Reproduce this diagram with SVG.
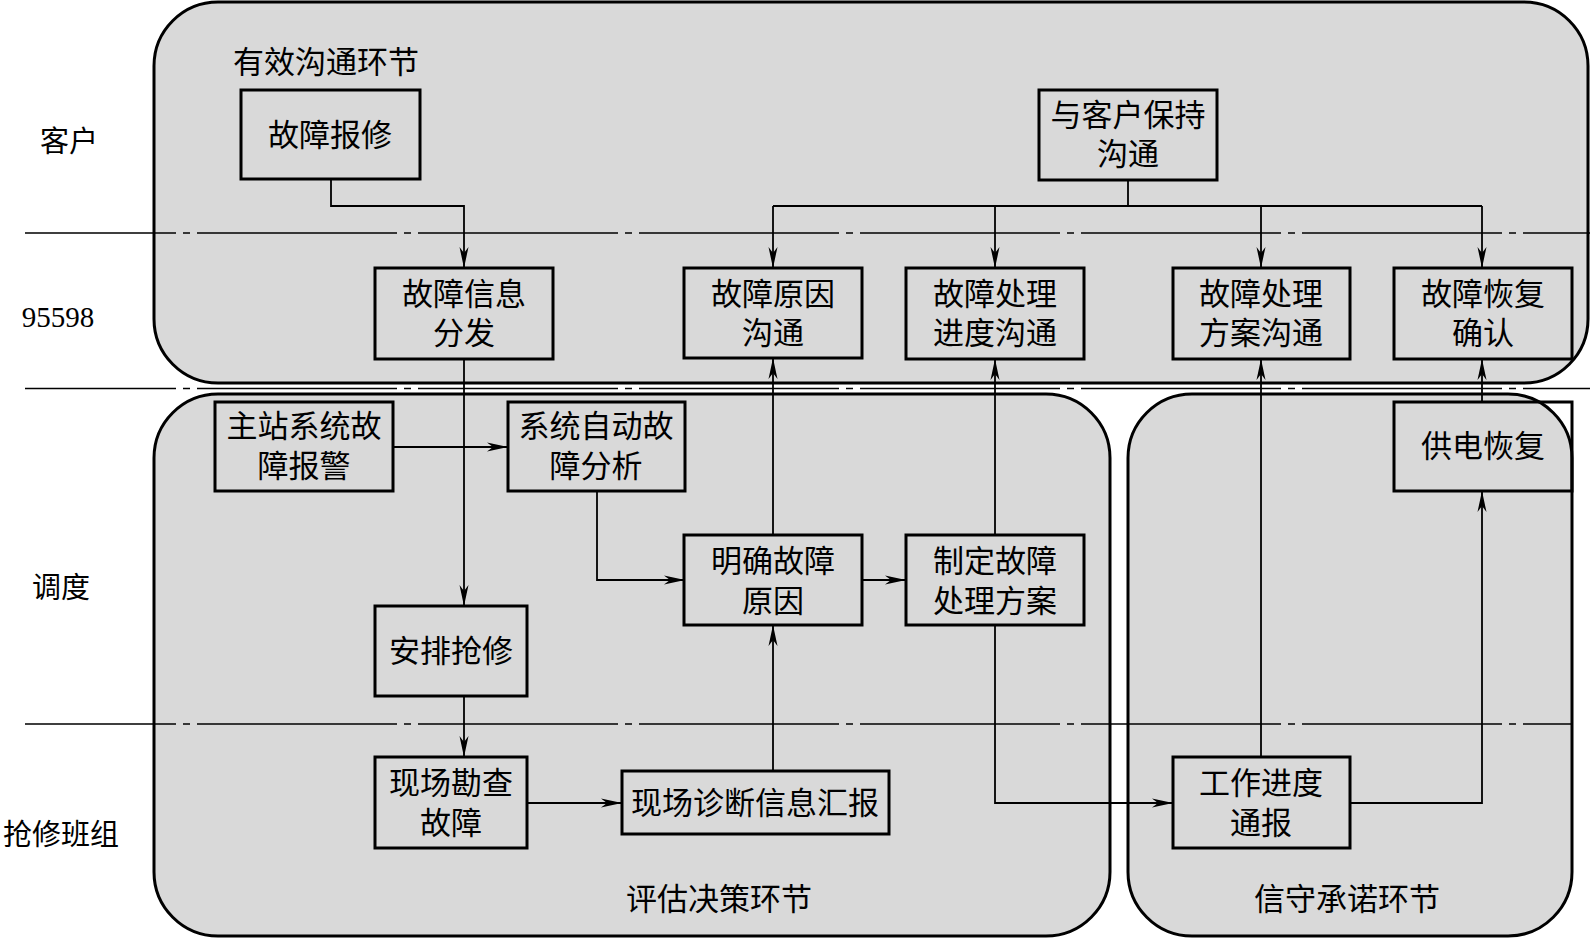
<svg xmlns="http://www.w3.org/2000/svg" width="1590" height="939" viewBox="0 0 1590 939">
<defs>
<style>
.bg{fill:#d9d9d9;stroke:#000;stroke-width:3}
.box{fill:none;stroke:#000;stroke-width:3}
.lane{stroke:#000;stroke-width:1.5;fill:none;stroke-dasharray:200 7 7 7;stroke-dashoffset:49}
.c{stroke:#000;stroke-width:1.8;fill:none}
.ca{stroke:#000;stroke-width:1.8;fill:none;marker-end:url(#ah)}
text{font-family:"Liberation Serif","Noto Sans CJK SC",serif;font-size:31px;fill:#000;text-anchor:middle}
.lbl{font-size:29px}
</style>
<marker id="ah" markerUnits="userSpaceOnUse" markerWidth="24" markerHeight="12" viewBox="0 -6 24 12" refX="21" refY="0" orient="auto">
<path d="M0,-4.5 L21,0 L0,4.5 L6,0 Z" fill="#000"/>
</marker>
</defs>
<rect width="1590" height="939" fill="#fff"/>
<g id="regions">
<rect id="r-comm" class="bg" x="154" y="2" width="1434" height="381" rx="64" ry="64"/>
<rect id="r-eval" class="bg" x="154" y="394" width="956" height="542" rx="64" ry="64"/>
<rect id="r-promise" class="bg" x="1128" y="394" width="444" height="542" rx="64" ry="64"/>
<text x="326" y="73">有效沟通环节</text>
<text x="719" y="910">评估决策环节</text>
<text x="1347" y="910">信守承诺环节</text>
</g>
<g id="lanes">
<line class="lane" x1="25" y1="233" x2="1590" y2="233"/>
<line class="lane" x1="25" y1="388.5" x2="1590" y2="388.5"/>
<line class="lane" x1="25" y1="724" x2="1572" y2="724"/>
<text class="lbl" x="69" y="152">客户</text>
<text class="lbl" x="58" y="327" style="font-family:'Liberation Serif',serif">95598</text>
<text class="lbl" x="61" y="598">调度</text>
<text class="lbl" x="61" y="845">抢修班组</text>
</g>
<g id="connectors">
<path class="ca" d="M331,179 V206 H464 V268"/>
<path class="c" d="M1128,180 V206"/>
<path class="c" d="M773,206 H1482"/>
<path class="ca" d="M773,206 V268"/>
<path class="ca" d="M995,206 V268"/>
<path class="ca" d="M1261,206 V268"/>
<path class="ca" d="M1482,206 V268"/>
<path class="ca" d="M464,359 V606"/>
<path class="ca" d="M393,447 H508"/>
<path class="ca" d="M597,491 V580 H685"/>
<path class="ca" d="M862,580 H906"/>
<path class="ca" d="M773,535 V358"/>
<path class="ca" d="M995,535 V359"/>
<path class="ca" d="M464,696 V757"/>
<path class="ca" d="M527,803 H622"/>
<path class="ca" d="M773,771 V625"/>
<path class="ca" d="M995,625 V803 H1173"/>
<path class="ca" d="M1261,757 V359"/>
<path class="ca" d="M1350,803 H1482 V491"/>
<path class="ca" d="M1482,402 V359"/>
</g>
<g id="n-baoxiu"><rect class="box" x="241" y="90" width="179" height="89"/><text x="330" y="146">故障报修</text></g>
<g id="n-kehu"><rect class="box" x="1039" y="90" width="178" height="90"/><text x="1128" y="126">与客户保持</text><text x="1128" y="165">沟通</text></g>
<g id="n-fenfa"><rect class="box" x="375" y="268" width="178" height="91"/><text x="464" y="305">故障信息</text><text x="464" y="344">分发</text></g>
<g id="n-yuanyin"><rect class="box" x="684" y="268" width="178" height="90"/><text x="773" y="305">故障原因</text><text x="773" y="344">沟通</text></g>
<g id="n-jindu"><rect class="box" x="906" y="268" width="178" height="91"/><text x="995" y="305">故障处理</text><text x="995" y="344">进度沟通</text></g>
<g id="n-fangan"><rect class="box" x="1173" y="268" width="177" height="91"/><text x="1261" y="305">故障处理</text><text x="1261" y="344">方案沟通</text></g>
<g id="n-queren"><rect class="box" x="1394" y="268" width="178" height="91"/><text x="1483" y="305">故障恢复</text><text x="1483" y="344">确认</text></g>
<g id="n-baojing"><rect class="box" x="215" y="402" width="178" height="89"/><text x="304" y="437">主站系统故</text><text x="304" y="477">障报警</text></g>
<g id="n-fenxi"><rect class="box" x="508" y="402" width="177" height="89"/><text x="596" y="437">系统自动故</text><text x="596" y="477">障分析</text></g>
<g id="n-gongdian"><rect class="box" x="1394" y="402" width="178" height="89"/><text x="1483" y="457">供电恢复</text></g>
<g id="n-mingque"><rect class="box" x="684" y="535" width="178" height="90"/><text x="773" y="572">明确故障</text><text x="773" y="612">原因</text></g>
<g id="n-zhiding"><rect class="box" x="906" y="535" width="178" height="90"/><text x="995" y="572">制定故障</text><text x="995" y="612">处理方案</text></g>
<g id="n-anpai"><rect class="box" x="375" y="606" width="152" height="90"/><text x="451" y="662">安排抢修</text></g>
<g id="n-kancha"><rect class="box" x="375" y="757" width="152" height="91"/><text x="451" y="794">现场勘查</text><text x="451" y="834">故障</text></g>
<g id="n-zhenduan"><rect class="box" x="622" y="771" width="267" height="63"/><text x="755" y="814">现场诊断信息汇报</text></g>
<g id="n-tongbao"><rect class="box" x="1173" y="757" width="177" height="91"/><text x="1261" y="794">工作进度</text><text x="1261" y="834">通报</text></g>
</svg>
